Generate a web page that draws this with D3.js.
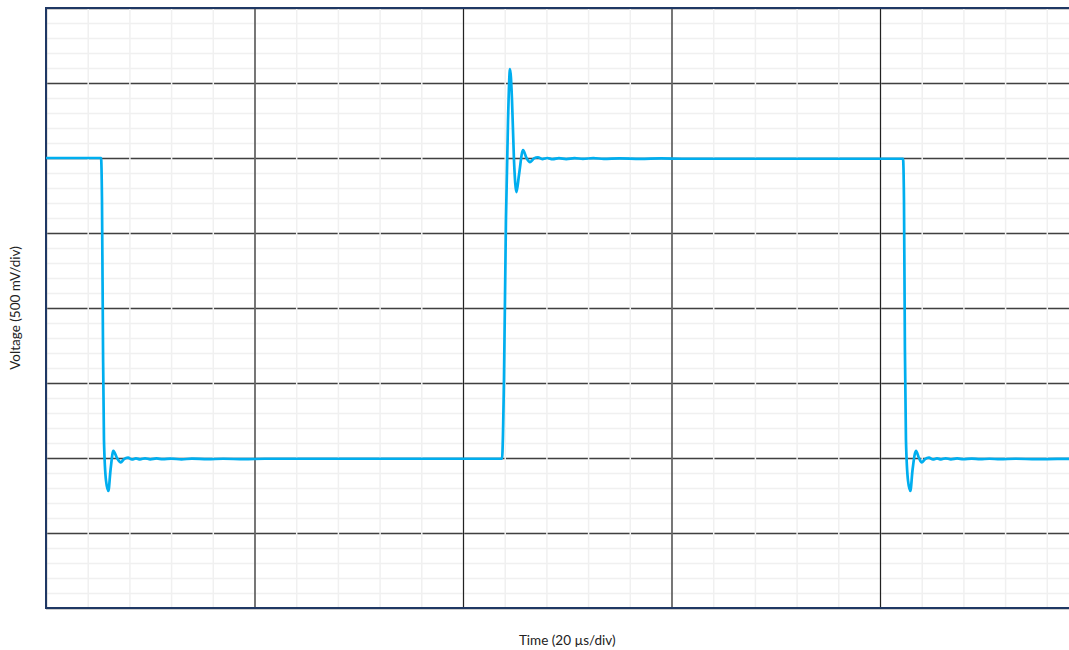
<!DOCTYPE html>
<html>
<head>
<meta charset="utf-8">
<script src="https://cdn.jsdelivr.net/npm/d3@7/dist/d3.min.js"></script>
<style>
  html, body { margin: 0; padding: 0; background: #fff; }
  svg { display: block; }
  text { font-family: Lato, "Open Sans", "Liberation Sans", sans-serif; }
</style>
</head>
<body>
<svg id="chart" width="1069" height="650"></svg>
<script>
// ---- Data (time in µs, voltage in V) ----
const timeUs = [
  0, 5.28, 5.37, 5.47, 5.56, 5.76, 5.98, 6.19, 6.46, 6.81, 7.17, 7.48, 7.87, 8.25, 8.63, 9.02,
  9.5, 10.0, 10.6, 11.2, 12.0, 13.0, 14.0, 15.5, 17.0, 19.0, 21.0, 43.74,
  43.93, 44.12, 44.32, 44.51, 44.70, 44.89, 45.13, 45.37, 45.76, 46.09, 46.43, 46.81, 47.19,
  47.6, 48.1, 48.6, 49.2, 49.9, 50.7, 51.5, 52.5, 53.5, 55.0, 57.0, 59.0, 61.0, 82.21,
  82.30, 82.39, 82.49, 82.69, 82.91, 83.12, 83.45, 83.74, 84.00, 84.32, 84.70, 85.08, 85.47, 85.85,
  86.3, 86.8, 87.4, 88.0, 88.8, 89.6, 90.5, 91.5, 93.0, 95.0, 97.0, 100
];
const voltageV = [
  1.0, 1.0, 0.72, -0.28, -0.88, -1.153, -1.22, -1.08, -0.953, -1.0, -1.029, -1.007, -0.998, -1.01, -1.003, -1.009,
  -1.002, -1.009, -1.003, -1.008, -1.004, -1.009, -1.004, -1.008, -1.005, -1.008, -1.005, -1.005,
  -0.48, 0.587, 1.253, 1.593, 1.387, 0.987, 0.773, 0.887, 1.053, 1.0, 0.973, 0.997, 1.005,
  0.993, 1.0, 0.992, 0.999, 0.993, 0.999, 0.994, 0.999, 0.994, 0.998, 0.994, 0.997, 0.995, 0.995,
  0.72, -0.28, -0.88, -1.153, -1.22, -1.08, -0.953, -1.0, -1.029, -1.007, -0.998, -1.01, -1.003, -1.009,
  -1.002, -1.009, -1.003, -1.008, -1.004, -1.008, -1.005, -1.008, -1.005, -1.008, -1.006, -1.006
];
const timeMajorTicks = [0, 20, 40, 60, 80, 100];
const timeMinorTicks = d3.range(0, 101, 4);
const voltMajorTicks = [-2, -1.5, -1, -0.5, 0, 0.5, 1, 1.5, 2];
const voltMinorTicks = d3.range(-20, 21, 1).map(v => v / 10);
const xLabel = "Time (20 µs/div)";
const yLabel = "Voltage (500 mV/div)";

// ---- Layout ----
const margin = { left: 46, top: 8 };
const plotW = 1042.5, plotH = 600;
const svg = d3.select("#chart");

const x = d3.scaleLinear().domain([0, 100]).range([0, plotW]);
const y = d3.scaleLinear().domain([-2, 2]).range([plotH, 0]);

const g = svg.append("g").attr("transform", `translate(${margin.left},${margin.top})`);

svg.append("defs").append("clipPath").attr("id", "clip")
  .append("rect").attr("x", 0).attr("y", 0).attr("width", plotW).attr("height", plotH);

function styleGrid(sel, color, width) {
  sel.select(".domain").remove();
  sel.selectAll(".tick line").attr("stroke", color).attr("stroke-width", width);
  sel.selectAll(".tick text").remove();
}

// minor horizontal
g.append("g").call(d3.axisLeft(y).tickValues(voltMinorTicks).tickSize(-plotW).tickFormat(""))
  .call(s => styleGrid(s, "#f0f0f0", 1.5));
// major horizontal
g.append("g").call(d3.axisLeft(y).tickValues(voltMajorTicks).tickSize(-plotW).tickFormat(""))
  .call(s => styleGrid(s, "#404040", 1.3));
// minor vertical
g.append("g").attr("transform", `translate(0,${plotH})`)
  .call(d3.axisBottom(x).tickValues(timeMinorTicks).tickSize(-plotH).tickFormat(""))
  .call(s => styleGrid(s, "#f0f0f0", 1.5));
// major vertical
g.append("g").attr("transform", `translate(0,${plotH})`)
  .call(d3.axisBottom(x).tickValues(timeMajorTicks).tickSize(-plotH).tickFormat(""))
  .call(s => styleGrid(s, "#222222", 1.2));

// border
g.append("rect").attr("x", 0).attr("y", 0).attr("width", plotW).attr("height", plotH)
  .attr("fill", "none").attr("stroke", "#1f3864").attr("stroke-width", 2);

// signal
const pts = timeUs.map((t, i) => [t, voltageV[i]]);
const line = d3.line().x(d => x(d[0])).y(d => y(d[1])).curve(d3.curveMonotoneX);
g.append("path").datum(pts).attr("clip-path", "url(#clip)")
  .attr("d", line).attr("fill", "none").attr("stroke", "#00aeef")
  .attr("stroke-width", 2.7).attr("stroke-linejoin", "round");

// axis titles
svg.append("text").attr("x", margin.left + plotW / 2).attr("y", 645)
  .attr("text-anchor", "middle").attr("font-size", 13.5).attr("fill", "#222").text(xLabel);
svg.append("text").attr("transform", `translate(20,${margin.top + plotH / 2}) rotate(-90)`)
  .attr("text-anchor", "middle").attr("font-size", 13.5).attr("fill", "#222").text(yLabel);
</script>
</body>
</html>
